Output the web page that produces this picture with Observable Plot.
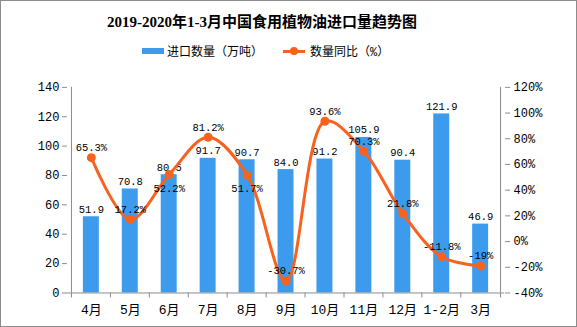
<!DOCTYPE html>
<html>
<head>
<meta charset="utf-8">
<script src="https://cdn.jsdelivr.net/npm/d3@7"></script>
<script src="https://cdn.jsdelivr.net/npm/@observablehq/plot@0.6"></script>
<style>
  html, body { margin: 0; padding: 0; background: #fff; }
  #wrap { position: relative; width: 577px; height: 327px; box-sizing: border-box; border: 1px solid #8c8c8c; overflow: hidden; }
  #title { position: absolute; left: 0; top: 9px; width: 522px; text-align: center; font: bold 15px "Liberation Serif", "Noto Sans CJK SC", serif; color: #000; }
  #legend { position: absolute; left: 141px; top: 41px; display: flex; align-items: center; font: 12px "Liberation Mono", "Noto Sans CJK SC", monospace; color: #000; }
  .item { display: flex; align-items: center; }
  .sw-bar { width: 22px; height: 6px; background: #3d9bee; margin-right: 3px; }
  .sw-line { position: relative; width: 22px; height: 3px; background: #f7631f; margin-right: 5px; }
  .sw-line::after { content: ""; position: absolute; left: 7px; top: -3px; width: 8px; height: 8px; border-radius: 50%; background: #f7631f; }
  #chart { position: absolute; left: -1px; top: -1px; }
</style>
</head>
<body>
<div id="wrap">
  <div id="chart"></div>
  <div id="title">2019-2020年1-3月中国食用植物油进口量趋势图</div>
  <div id="legend">
    <div class="item" style="margin-right:20px"><div class="sw-bar"></div><span>进口数量（万吨）</span></div>
    <div class="item"><div class="sw-line"></div><span>数量同比（%）</span></div>
  </div>
</div>
<script>
const categories = ["4月","5月","6月","7月","8月","9月","10月","11月","12月","1-2月","3月"];
const volumes = [51.9, 70.8, 80.5, 91.7, 90.7, 84.0, 91.2, 105.9, 90.4, 121.9, 46.9];
const yoy = [65.3, 17.2, 52.2, 81.2, 51.7, -30.7, 93.6, 70.3, 21.8, -11.8, -19];
const yoyLabelSide = ["above","above","below","above","below","above","above","above","above","above","above"];
const leftTicks = [0, 20, 40, 60, 80, 100, 120, 140];
const rightTicks = [-40, -20, 0, 20, 40, 60, 80, 100, 120];

const leftMax = 140, pMin = -40, pMax = 120;
const toLeft = p => (p - pMin) / (pMax - pMin) * leftMax;
const fromLeft = v => Math.round(v / leftMax * (pMax - pMin) + pMin);

const rows = categories.map((c, i) => ({cat: c, vol: volumes[i], pct: yoy[i], pctL: toLeft(yoy[i]), side: yoyLabelSide[i]}));

const W = 577, H = 327, mL = 67, mR = 72, mT = 87, mB = 34;
const bandW = (W - mL - mR) / categories.length;
const tickLen = leftMax * 5 / (H - mT - mB);

const barColor = "#3d9bee", lineColor = "#f7631f", axisColor = "#8c8c8c";
const axisFont = "Liberation Mono, Noto Sans CJK SC, monospace";
const first = categories[0], last = categories[categories.length - 1];

const chart = Plot.plot({
  width: W, height: H,
  marginLeft: mL, marginRight: mR, marginTop: mT, marginBottom: mB,
  style: {background: "transparent", fontFamily: axisFont, color: "#000", overflow: "visible"},
  x: {type: "band", domain: categories, padding: 0.6, align: 0.5, paddingOuter: 0.3},
  y: {domain: [0, leftMax]},
  marks: [
    Plot.barY(rows, {x: "cat", y: "vol", fill: barColor}),
    Plot.axisY({anchor: "left", ticks: leftTicks, tickSize: 5, tickPadding: 3, stroke: axisColor, fontSize: 12, fill: "#000", label: null}),
    Plot.axisY({anchor: "right", ticks: rightTicks.map(toLeft), tickFormat: v => fromLeft(v) + "%", tickSize: 5, tickPadding: 4, stroke: axisColor, fontSize: 12, fill: "#000", label: null}),
    Plot.ruleX([first], {x: d => d, dx: -bandW / 2, y1: 0, y2: leftMax, stroke: axisColor}),
    Plot.ruleX([last], {x: d => d, dx: bandW / 2, y1: 0, y2: leftMax, stroke: axisColor}),
    Plot.ruleY([0], {stroke: axisColor}),
    Plot.axisX({ticks: categories, tickSize: 0, tickPadding: 12, fontSize: 13, fill: "#000", label: null}),
    Plot.ruleX(categories, {x: d => d, dx: -bandW / 2, y1: 0, y2: -tickLen, stroke: axisColor}),
    Plot.ruleX([last], {x: d => d, dx: bandW / 2, y1: 0, y2: -tickLen, stroke: axisColor}),
    Plot.text(rows, {x: "cat", y: "vol", text: d => d.vol.toFixed(1), lineAnchor: "bottom", dy: -4, fontSize: 10.5, fill: "#000"}),
    Plot.line(rows, {x: "cat", y: "pctL", stroke: lineColor, strokeWidth: 3, curve: "catmull-rom"}),
    Plot.dot(rows, {x: "cat", y: "pctL", r: 4.5, fill: lineColor}),
    Plot.text(rows.filter(d => d.side === "above"), {x: "cat", y: "pctL", text: d => d.pct + "%", dy: -10, fontSize: 10.5, fill: "#000"}),
    Plot.text(rows.filter(d => d.side === "below"), {x: "cat", y: "pctL", text: d => d.pct + "%", dy: 14, fontSize: 10.5, fill: "#000"})
  ]
});
document.getElementById("chart").appendChild(chart);
</script>
</body>
</html>
